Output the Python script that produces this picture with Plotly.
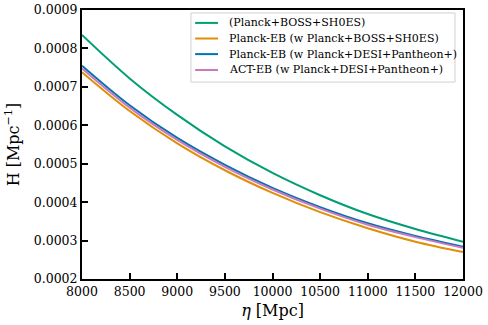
import plotly.graph_objects as go

# valores (eta en Mpc, H en Mpc^-1)
eta = [8000, 8500, 9000, 9500, 10000, 10500, 11000, 11500, 12000]

h_planck_boss = [0.000835, 0.000722, 0.000627, 0.000545, 0.000476, 0.000418, 0.000369, 0.000330, 0.000297]
h_eb_boss     = [0.000738, 0.000637, 0.000553, 0.000483, 0.000424, 0.000374, 0.000332, 0.000297, 0.000270]
h_eb_desi     = [0.000755, 0.000652, 0.000567, 0.000497, 0.000437, 0.000387, 0.000345, 0.000312, 0.000284]
h_act_desi    = [0.000748, 0.000646, 0.000562, 0.000492, 0.000433, 0.000383, 0.000341, 0.000309, 0.000281]

nombres = [
    "(Planck+BOSS+SH0ES)",
    "Planck-EB (w Planck+BOSS+SH0ES)",
    "Planck-EB (w Planck+DESI+Pantheon+)",
    "ACT-EB (w Planck+DESI+Pantheon+)",
]
colores = ["#029e73", "#de8f05", "#0173b2", "#cc78bc"]
datos = [h_planck_boss, h_eb_boss, h_eb_desi, h_act_desi]

x_ticks = [8000, 8500, 9000, 9500, 10000, 10500, 11000, 11500, 12000]
y_ticks = [0.0002, 0.0003, 0.0004, 0.0005, 0.0006, 0.0007, 0.0008, 0.0009]
y_labels = ["0.0002", "0.0003", "0.0004", "0.0005", "0.0006", "0.0007", "0.0008", "0.0009"]

FONT = "DejaVu Serif"

fig = go.Figure()
for nombre, ys, color in zip(nombres, datos, colores):
    fig.add_trace(go.Scatter(
        x=eta, y=ys, name=nombre, mode="lines",
        line=dict(color=color, width=2, shape="spline", smoothing=1.0),
        showlegend=False,
    ))

# leyenda compacta estilo matplotlib (la de plotly no permite filas tan juntas)
fig.add_shape(type="rect", xref="paper", yref="paper",
              x0=0.286, x1=0.979, y0=0.732, y1=0.989,
              line=dict(color="#d0d0d0", width=1), fillcolor="white", layer="above")
fila_y = [0.952, 0.894, 0.836, 0.777]
for nombre, color, yy in zip(nombres, colores, fila_y):
    fig.add_shape(type="line", xref="paper", yref="paper",
                  x0=0.297, x1=0.357, y0=yy, y1=yy,
                  line=dict(color=color, width=2))
    fig.add_annotation(text=nombre, xref="paper", yref="paper",
                       x=0.381, y=yy, xanchor="left", yanchor="middle",
                       showarrow=False, font=dict(family=FONT, size=11, color="black"))

eje = dict(
    showline=True, linecolor="black", linewidth=2, mirror=True,
    ticks="inside", ticklen=6, tickwidth=1.5, tickcolor="black",
    showgrid=False, zeroline=False, automargin=False,
    tickfont=dict(family=FONT, size=12.5, color="black"),
)

fig.update_layout(
    width=488, height=325, autosize=False,
    plot_bgcolor="white", paper_bgcolor="white",
    margin=dict(l=82, r=25, t=10, b=46),
    font=dict(family=FONT, color="black"),
    xaxis=dict(
        **eje, range=[8000, 12000], tickvals=x_ticks,
        ticktext=[str(v) for v in x_ticks],
        title=dict(text="<i>η</i> [Mpc]", font=dict(family=FONT, size=16), standoff=7),
    ),
    yaxis=dict(
        **eje, range=[0.0002, 0.0009000001], tickvals=y_ticks, ticktext=y_labels,
        title=dict(text="H [Mpc<sup>−1</sup>]", font=dict(family=FONT, size=16), standoff=10),
    ),
)

# quitar el margen de 8px del body para que la figura ocupe toda la ventana
fig.write_html("out.html", config={"displayModeBar": False, "responsive": False},
               post_script="document.body.style.margin='0';")
